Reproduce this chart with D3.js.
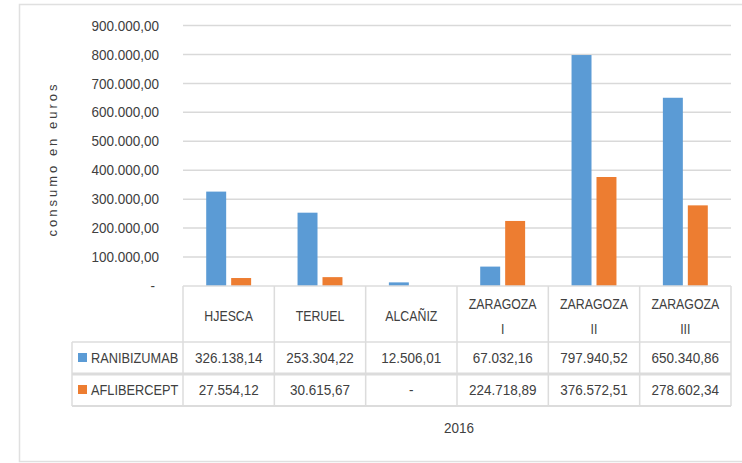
<!DOCTYPE html>
<html>
<head>
<meta charset="utf-8">
<script src="https://cdn.jsdelivr.net/npm/d3@7"></script>
<style>
  body { margin: 0; background: #fff; }
  text { font-family: "Liberation Sans", Arial, sans-serif; fill: #404040; }
</style>
</head>
<body>
<div id="chart"></div>
<script>
// Data
var categories = ["HJESCA", "TERUEL", "ALCAÑIZ", "ZARAGOZA I", "ZARAGOZA II", "ZARAGOZA III"];
var categoryLines = [["HJESCA"], ["TERUEL"], ["ALCAÑIZ"], ["ZARAGOZA", "I"], ["ZARAGOZA", "II"], ["ZARAGOZA", "III"]];
var series = ["RANIBIZUMAB", "AFLIBERCEPT"];
var ranibizumab = [326138.14, 253304.22, 12506.01, 67032.16, 797940.52, 650340.86];
var aflibercept = [27554.12, 30615.67, null, 224718.89, 376572.51, 278602.34];
var yTicks = [0, 100000, 200000, 300000, 400000, 500000, 600000, 700000, 800000, 900000];
var colors = ["#5B9BD5", "#ED7D31"];
var values = [ranibizumab, aflibercept];

var svgWidth = 742;
var svgHeight = 463;

// plot area
var plotLeft = 183, plotRight = 731, plotTop = 25.5, plotBottom = 286;
var rowH = [56, 32, 32];
var tableLeft = 72;

// squeeze text horizontally (the original font is narrow)
function condense(sel, factor) {
  sel.each(function() {
    var w = this.getComputedTextLength();
    d3.select(this)
      .attr("textLength", w * factor)
      .attr("lengthAdjust", "spacingAndGlyphs");
  });
}

var svg = d3.select("#chart")
  .append("svg")
  .attr("width", svgWidth)
  .attr("height", svgHeight);

// outer border
svg.append("rect")
  .attr("x", 19.5).attr("y", 4.5)
  .attr("width", 740).attr("height", 457)
  .attr("fill", "none")
  .attr("stroke", "#e0e0e0")
  .attr("stroke-width", 1.5);

var locale = d3.formatLocale({decimal: ",", thousands: ".", grouping: [3], currency: ["", ""]});
var fmt = locale.format(",.2f");

var x0 = d3.scaleBand()
  .domain(categories)
  .range([plotLeft, plotRight]);

var x1 = d3.scaleBand()
  .domain(series)
  .range([0, x0.bandwidth()])
  .paddingInner(0.2)
  .paddingOuter(0.93);

var y = d3.scaleLinear()
  .domain([0, 900000])
  .range([plotBottom, plotTop]);

// gridlines
svg.append("g")
  .selectAll("line")
  .data(yTicks.slice(1))
  .enter()
  .append("line")
  .attr("x1", plotLeft)
  .attr("x2", plotRight)
  .attr("y1", d => y(d))
  .attr("y2", d => y(d))
  .attr("stroke", "#d9d9d9")
  .attr("stroke-width", 1.5);

// y axis
var leftAxis = d3.axisLeft(y)
  .tickValues(yTicks)
  .tickSize(0)
  .tickPadding(0)
  .tickFormat(d => d === 0 ? "-" : fmt(d));

var yAxisG = svg.append("g")
  .attr("transform", "translate(159,0)")
  .call(leftAxis);
yAxisG.select(".domain").remove();
yAxisG.selectAll("text")
  .attr("font-size", 14.5)
  .attr("fill", "#404040")
  .attr("font-family", "'Liberation Sans', Arial, sans-serif")
  .attr("dx", d => d === 0 ? -4 : 0)
  .call(condense, 0.93);

// axis title
svg.append("text")
  .attr("transform", "translate(57,159) rotate(-90)")
  .attr("text-anchor", "middle")
  .attr("font-size", 13)
  .attr("letter-spacing", 3)
  .text("consumo en euros");

// bars
series.forEach(function(s, si) {
  svg.append("g")
    .selectAll("rect")
    .data(values[si].map((v, i) => ({cat: categories[i], v: v})).filter(d => d.v !== null))
    .enter()
    .append("rect")
    .attr("x", d => x0(d.cat) + x1(s))
    .attr("y", d => y(d.v))
    .attr("width", x1.bandwidth())
    .attr("height", d => plotBottom - y(d.v))
    .attr("fill", colors[si]);
});

// data table
var table = svg.append("g");
var rowTop = [plotBottom, plotBottom + rowH[0], plotBottom + rowH[0] + rowH[1]];
var tableBottom = rowTop[2] + rowH[2];
var lineColor = "#dcdcdc";

// horizontal lines
table.append("line").attr("x1", plotLeft).attr("x2", plotRight)
  .attr("y1", plotBottom).attr("y2", plotBottom).attr("stroke", lineColor).attr("stroke-width", 1.5);
table.append("line").attr("x1", tableLeft).attr("x2", plotRight)
  .attr("y1", rowTop[1]).attr("y2", rowTop[1]).attr("stroke", lineColor).attr("stroke-width", 1.5);
table.append("line").attr("x1", tableLeft).attr("x2", plotRight)
  .attr("y1", rowTop[2]).attr("y2", rowTop[2]).attr("stroke", lineColor).attr("stroke-width", 3);
table.append("line").attr("x1", tableLeft).attr("x2", plotRight)
  .attr("y1", tableBottom).attr("y2", tableBottom).attr("stroke", lineColor).attr("stroke-width", 2);

// vertical lines
table.append("line").attr("x1", tableLeft).attr("x2", tableLeft)
  .attr("y1", rowTop[1]).attr("y2", tableBottom).attr("stroke", lineColor).attr("stroke-width", 1.5);
table.selectAll(".vline")
  .data(categories.concat(["end"]))
  .enter()
  .append("line")
  .attr("x1", (d, i) => plotLeft + i * x0.bandwidth())
  .attr("x2", (d, i) => plotLeft + i * x0.bandwidth())
  .attr("y1", plotBottom)
  .attr("y2", tableBottom)
  .attr("stroke", lineColor)
  .attr("stroke-width", 1.5);

// header labels
categoryLines.forEach(function(lines, i) {
  var cx = x0(categories[i]) + x0.bandwidth() / 2;
  if (lines.length === 1) {
    table.append("text")
      .attr("x", cx).attr("y", plotBottom + 35)
      .attr("text-anchor", "middle")
      .attr("font-size", 14.5)
      .text(lines[0])
      .call(condense, 0.85);
  } else {
    table.append("text")
      .attr("x", cx).attr("y", plotBottom + 23)
      .attr("text-anchor", "middle")
      .attr("font-size", 14.5)
      .text(lines[0])
      .call(condense, 0.85);
    table.append("text")
      .attr("x", cx).attr("y", plotBottom + 48)
      .attr("text-anchor", "middle")
      .attr("font-size", 14.5)
      .text(lines[1])
      .call(condense, 0.85);
  }
});

// value rows
series.forEach(function(s, si) {
  var cy = rowTop[si + 1] + rowH[si + 1] / 2 + 5;
  table.append("rect")
    .attr("x", 78).attr("y", cy - 10)
    .attr("width", 9).attr("height", 9)
    .attr("fill", colors[si]);
  table.append("text")
    .attr("x", 91).attr("y", cy)
    .attr("font-size", 14.5)
    .text(s)
    .call(condense, 0.88);
  table.append("g")
    .selectAll("text")
    .data(values[si])
    .enter()
    .append("text")
    .attr("x", (d, i) => x0(categories[i]) + x0.bandwidth() / 2)
    .attr("y", cy)
    .attr("text-anchor", "middle")
    .attr("font-size", 14.5)
    .text(d => d === null ? "-" : fmt(d))
    .call(condense, 0.93);
});

// x axis title
svg.append("text")
  .attr("x", 459)
  .attr("y", 433)
  .attr("text-anchor", "middle")
  .attr("font-size", 15)
  .text("2016")
  .call(condense, 0.9);
</script>
</body>
</html>
